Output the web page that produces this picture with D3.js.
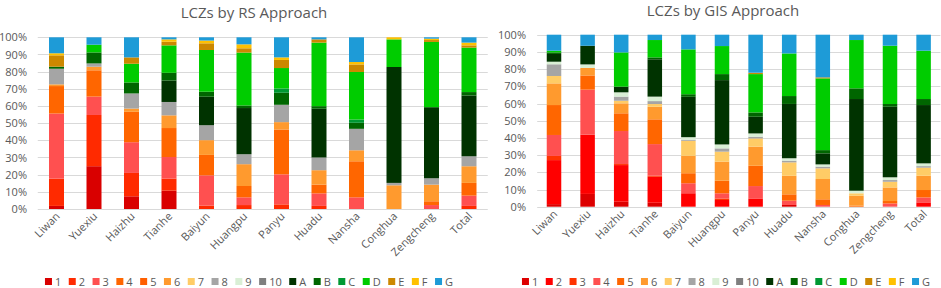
<!DOCTYPE html>
<html>
<head>
<meta charset="utf-8">
<script src="https://cdn.jsdelivr.net/npm/d3@7"></script>
<style>
  body { margin: 0; background: #fff; }
  svg { display: block; font-family: "Open Sans", sans-serif; }
</style>
</head>
<body>
<svg id="chart" width="941" height="288"></svg>
<script>
// districts on the x axis (same for both panels)
var districts = ["Liwan", "Yuexiu", "Haizhu", "Tianhe", "Baiyun", "Huangpu",
                 "Panyu", "Huadu", "Nansha", "Conghua", "Zengcheng", "Total"];
var zones = ["1", "2", "3", "4", "5", "6", "7", "8", "9", "10",
             "A", "B", "C", "D", "E", "F", "G"];
var yTicks = [0, 0.1, 0.2, 0.3, 0.4, 0.5, 0.6, 0.7, 0.8, 0.9, 1];

// RS approach, share (%) of each LCZ per district
var rs1  = [1.8, 24.9, 7.4, 10.7, 0, 0, 0, 0, 0, 0, 0, 0];
var rs2  = [15.9, 29.8, 13.6, 7.0, 2.0, 2.3, 2.7, 1.8, 0, 0, 0, 1.8];
var rs3  = [37.9, 10.7, 17.9, 12.6, 17.6, 4.5, 17.5, 7.3, 6.8, 0, 2.3, 6.0];
var rs4  = [16.0, 15.3, 17.7, 16.9, 11.9, 6.6, 26.1, 5.1, 21.0, 0, 2.2, 7.4];
var rs5  = [0, 0, 0, 0, 0, 0, 0, 0, 0, 0, 0, 0];
var rs6  = [1.0, 2.1, 1.9, 7.4, 8.6, 12.7, 4.3, 8.4, 6.4, 13.8, 9.7, 9.7];
var rs7  = [0, 0, 0, 0, 0, 0, 0, 0, 0, 0, 0, 0];
var rs8  = [9.1, 1.9, 8.8, 7.8, 8.7, 5.8, 10.1, 7.4, 12.5, 1.4, 3.7, 5.8];
var rs9  = [0, 0, 0, 0, 0, 0, 0, 0, 0, 0, 0, 0];
var rs10 = [0, 0, 0, 0, 0, 0, 0, 0, 0, 0, 0, 0];
var rsA  = [0, 0, 0, 12.5, 16.6, 26.9, 0, 28.4, 0, 67.5, 41.4, 35.4];
var rsB  = [1.2, 6.4, 6.4, 4.5, 2.9, 1.5, 7.0, 1.5, 3.5, 0, 0, 2.0];
var rsC  = [0, 0, 0, 0, 0, 0, 2.5, 0, 1.9, 0, 0, 0];
var rsD  = [0, 4.5, 10.9, 16.0, 24.3, 30.8, 11.9, 37.0, 27.7, 16.1, 38.0, 25.9];
var rsE  = [6.6, 0, 3.7, 2.1, 3.9, 2.5, 4.7, 1.9, 4.4, 0, 1.1, 1.3];
var rsF  = [1.2, 0, 0, 1.4, 1.6, 2.3, 1.5, 0, 1.4, 1.2, 0.8, 1.6];
var rsG  = [9.3, 4.3, 11.7, 1.2, 1.9, 4.1, 11.7, 1.2, 14.4, 0, 0.8, 3.1];

// GIS approach
var gis1  = [1.5, 7.4, 2.9, 2.3, 0, 0, 0, 1.0, 0, 0, 0, 0];
var gis2  = [25.6, 34.3, 21.3, 15.1, 7.8, 3.9, 4.8, 0, 0, 0, 0, 2.5];
var gis3  = [2.4, 0, 0.6, 0.6, 0, 0.9, 0, 0, 0, 0, 0, 0];
var gis4  = [12.2, 26.1, 19.2, 18.4, 5.8, 3.0, 7.2, 2.5, 1.0, 0, 1.9, 2.9];
var gis5  = [17.4, 8.2, 10.3, 14.4, 5.8, 7.3, 11.8, 3.7, 3.3, 0.6, 1.4, 4.3];
var gis6  = [12.6, 4.4, 5.8, 7.3, 10.1, 11.1, 11.1, 10.8, 11.8, 5.8, 7.9, 8.3];
var gis7  = [4.3, 0, 1.5, 1.6, 8.7, 5.8, 4.8, 7.8, 6.2, 1.4, 3.3, 4.7];
var gis8  = [6.8, 0, 2.4, 1.7, 0.6, 1.9, 1.0, 1.0, 1.0, 0, 1.0, 0.9];
var gis9  = [1.5, 2.0, 2.5, 2.6, 1.5, 2.3, 1.9, 1.4, 1.3, 1.5, 1.6, 1.6];
var gis10 = [0, 0, 0, 0, 0, 0, 0, 0, 0, 0, 0, 0];
var gisA  = [4.5, 10.8, 3.3, 21.7, 23.4, 37.4, 9.7, 31.6, 6.4, 53.3, 41.0, 33.9];
var gisB  = [0.9, 0, 0, 1.1, 1.5, 3.5, 2.5, 4.6, 1.9, 6.2, 1.6, 3.5];
var gisC  = [0, 0, 0, 0, 0, 0, 0, 0, 0, 0, 0, 0];
var gisD  = [1.0, 0, 19.9, 10.1, 26.0, 16.3, 22.3, 24.8, 41.7, 28.1, 33.9, 28.1];
var gisE  = [0, 0, 0, 0, 0, 0, 0.8, 0, 0.6, 0, 0, 0];
var gisF  = [0, 0, 0, 0, 0, 0, 0, 0, 0, 0, 0, 0];
var gisG  = [9.3, 6.4, 10.3, 3.1, 8.5, 6.6, 22.1, 10.9, 24.8, 3.1, 6.4, 9.3];

var rsSeries = [rs1, rs2, rs3, rs4, rs5, rs6, rs7, rs8, rs9, rs10,
                rsA, rsB, rsC, rsD, rsE, rsF, rsG];
var gisSeries = [gis1, gis2, gis3, gis4, gis5, gis6, gis7, gis8, gis9, gis10,
                 gisA, gisB, gisC, gisD, gisE, gisF, gisG];

var rsColors = ["#d90000", "#ff2a00", "#ff5050", "#ff6600", "#ff5f00", "#ff9a2e",
                "#ffcc66", "#a5a5a5", "#d9efd5", "#7f7f7f", "#003300", "#006600",
                "#009933", "#00cc00", "#cc8800", "#ffc000", "#1e9bd7"];
var gisColors = ["#dd0000", "#ff0000", "#ff3300", "#ff5050", "#ff6600", "#ff9a2e",
                 "#ffcc66", "#a5a5a5", "#d9efd5", "#7f7f7f", "#003300", "#006600",
                 "#009933", "#00cc00", "#cc8800", "#ffc000", "#1e9bd7"];

var svg = d3.select("#chart");
var textColor = "#595959";

function drawPanel(cfg) {
    var rows = districts.map(function (d, i) {
        var row = { district: d };
        zones.forEach(function (z, k) { row[z] = cfg.series[k][i]; });
        return row;
    });

    var stacked = d3.stack().keys(zones).offset(d3.stackOffsetExpand)(rows);

    var x = d3.scaleBand().domain(districts).range(cfg.xRange).paddingInner(cfg.pad).paddingOuter(cfg.pad / 2);
    var y = d3.scaleLinear().domain([0, 1]).range(cfg.yRange);
    var g = svg.append("g");

    // gridlines
    g.append("g").selectAll("line").data(yTicks).enter().append("line")
        .attr("x1", cfg.xRange[0]).attr("x2", cfg.xRange[1])
        .attr("y1", function (d) { return Math.round(y(d)) + 0.5; })
        .attr("y2", function (d) { return Math.round(y(d)) + 0.5; })
        .attr("stroke", "#d9d9d9").attr("stroke-width", 1);

    // y axis labels
    var yAxis = g.append("g")
        .attr("transform", "translate(" + cfg.yLabelX + ",0)")
        .call(d3.axisLeft(y).tickValues(yTicks).tickFormat(d3.format(".0%")).tickSize(0).tickPadding(0));
    yAxis.select(".domain").remove();
    yAxis.selectAll("text").attr("fill", textColor).attr("font-size", "11px")
        .attr("font-family", "'Open Sans', sans-serif");

    // bars
    g.append("g").selectAll("g").data(stacked).enter().append("g")
        .attr("fill", function (d, k) { return cfg.colors[k]; })
        .selectAll("rect").data(function (d) { return d; }).enter().append("rect")
        .attr("x", function (d) { return x(d.data.district); })
        .attr("width", x.bandwidth())
        .attr("y", function (d) { return y(d[1]); })
        .attr("height", function (d) { return Math.max(0, y(d[0]) - y(d[1])); });

    // x labels
    var xAxis = g.append("g")
        .attr("transform", "translate(0," + cfg.yRange[0] + ")")
        .call(d3.axisBottom(x).tickSize(0).tickPadding(0));
    xAxis.select(".domain").remove();
    xAxis.selectAll("text")
        .attr("fill", textColor).attr("font-size", "11px")
        .attr("font-family", "'Open Sans', sans-serif")
        .attr("text-anchor", "end")
        .attr("dy", null).attr("y", null)
        .attr("transform", "translate(4,8) rotate(-45)");

    // title
    svg.append("text")
        .attr("x", cfg.titleX).attr("y", cfg.titleY)
        .attr("text-anchor", "middle")
        .attr("fill", textColor).attr("font-size", "15px")
        .text(cfg.title);

    // legend, centred on cfg.legendX
    var lg = svg.append("g");
    var items = lg.selectAll("g").data(zones).enter().append("g");
    items.append("rect").attr("width", 7).attr("height", 7).attr("y", -4)
        .attr("fill", function (d, k) { return cfg.colors[k]; });
    items.append("text").attr("x", 10).attr("y", 4)
        .attr("fill", textColor).attr("font-size", "11px")
        .text(function (d) { return d; });
    var pos = 0;
    items.each(function () {
        var w = d3.select(this).select("text").node().getComputedTextLength();
        d3.select(this).attr("transform", "translate(" + pos + ",0)");
        pos += 10 + w + 7.5;
    });
    pos -= 7.5;
    lg.attr("transform", "translate(" + (cfg.legendX - pos / 2) + "," + cfg.legendY + ")");
}

drawPanel({
    series: rsSeries, colors: rsColors,
    xRange: [37.75, 487.75], yRange: [209, 37.3], pad: 0.6, yLabelX: 27,
    title: "LCZs by RS Approach", titleX: 254, titleY: 18,
    legendX: 249, legendY: 282
});
drawPanel({
    series: gisSeries, colors: gisColors,
    xRange: [537.2, 940.4], yRange: [206.7, 34.7], pad: 0.568, yLabelX: 526,
    title: "LCZs by GIS Approach", titleX: 723, titleY: 16,
    legendX: 726, legendY: 282
});
</script>
</body>
</html>
